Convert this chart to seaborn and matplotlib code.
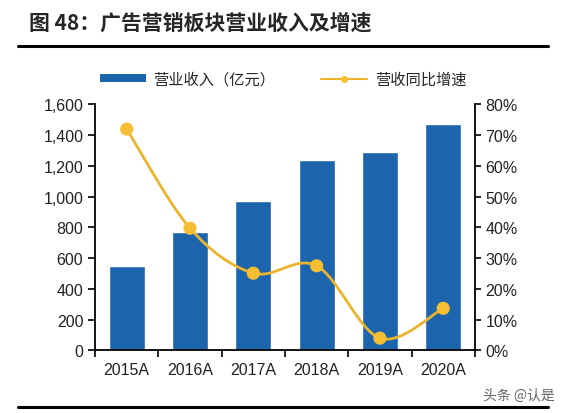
import numpy as np
import pandas as pd
import seaborn as sns
import matplotlib.pyplot as plt
from matplotlib.path import Path
from matplotlib.patches import PathPatch, Patch
from matplotlib.lines import Line2D
from matplotlib.ticker import FuncFormatter, FixedLocator, NullFormatter

# data
years = ["2015A", "2016A", "2017A", "2018A", "2019A", "2020A"]
revenue = [550, 771, 968, 1238, 1290, 1472]          # 营业收入（亿元）
growth = [71.9, 39.7, 25.1, 27.5, 4.0, 13.7]          # 营收同比增速 %

bar_label = "营业收入（亿元）"
line_label = "营收同比增速"
title = "图 48：广告营销板块营业收入及增速"

bar_color = "#1c65ad"
line_color = "#ebb42c"
dot_color = "#f6bf33"

sns.set_style("white")
plt.rcParams["font.family"] = ["Liberation Sans", "Noto Sans CJK SC", "DejaVu Sans"]

df = pd.DataFrame({"year": years, "revenue": revenue, "growth": growth})

fig = plt.figure(figsize=(5.66, 4.14), dpi=100)
ax = fig.add_axes([0.168, 0.151, 0.671, 0.595])

sns.barplot(data=df, x="year", y="revenue", color=bar_color, width=0.57,
            saturation=1, ax=ax)
ax.set_ylim(0, 1600)
ax.set_xlim(-0.5, len(years) - 0.5)
ax.set_yticks(range(0, 1601, 200))
ax.yaxis.set_major_formatter(FuncFormatter(lambda v, p: f"{int(v):,}"))
ax.set_xlabel("")
ax.set_ylabel("")

# category boundary ticks on x
ax.xaxis.set_minor_locator(FixedLocator(np.arange(-0.5, len(years), 1.0)))
ax.xaxis.set_minor_formatter(NullFormatter())
ax.tick_params(axis="x", which="major", length=0, labelsize=11.5, pad=8, colors="#222222")
ax.tick_params(axis="x", which="minor", length=5, width=1.2, bottom=True, color="black")
ax.tick_params(axis="y", length=5, width=1.2, left=True, labelsize=11.5, colors="#222222")
ax.tick_params(axis="y", color="black")

for s in ["left", "bottom"]:
    ax.spines[s].set_color("black")
    ax.spines[s].set_linewidth(1.3)
ax.spines["top"].set_visible(False)
ax.spines["right"].set_visible(False)

ax2 = ax.twinx()
ax2.set_ylim(0, 80)
ax2.set_yticks(range(0, 81, 10))
ax2.yaxis.set_major_formatter(FuncFormatter(lambda v, p: f"{int(v)}%"))
ax2.tick_params(axis="y", length=4, width=1.2, right=True, labelsize=11.5,
                colors="#222222", color="black")
ax2.spines["right"].set_color("black")
ax2.spines["right"].set_linewidth(1.3)
for s in ["top", "left", "bottom"]:
    ax2.spines[s].set_visible(False)

# smooth curve (Catmull-Rom through the data points)
xs = np.arange(len(years), dtype=float)
ys = np.array(growth, dtype=float)
pts = np.column_stack([xs, ys])
verts = [pts[0]]
codes = [Path.MOVETO]
for i in range(len(pts) - 1):
    p0 = pts[i - 1] if i > 0 else pts[i]
    p1, p2 = pts[i], pts[i + 1]
    p3 = pts[i + 2] if i + 2 < len(pts) else pts[i + 1]
    c1 = p1 + (p2 - p0) / 6.0
    c2 = p2 - (p3 - p1) / 6.0
    verts += [c1, c2, p2]
    codes += [Path.CURVE4] * 3
ax2.add_patch(PathPatch(Path(verts, codes), facecolor="none", edgecolor=line_color,
                        lw=2, zorder=3))
sns.scatterplot(x=xs, y=ys, color=dot_color, s=90, edgecolor="none", ax=ax2,
                zorder=4, legend=False)

handles = [Patch(facecolor=bar_color, edgecolor="none"),
           Line2D([], [], color=line_color, lw=1.5, marker="o", markersize=4,
                  markerfacecolor=dot_color, markeredgecolor=dot_color)]
fig.legend(handles, [bar_label, line_label], loc="center", bbox_to_anchor=(0.5, 0.806),
           ncol=2, frameon=False, handlelength=3.0, handleheight=0.45,
           columnspacing=3.0, handletextpad=0.5,
           prop={"family": ["Noto Sans CJK SC"], "size": 11})

# title and rules
fig.text(0.052, 0.945, title, fontsize=15, fontweight="bold", va="center", ha="left",
         family=["Noto Sans CJK SC", "DejaVu Sans"])
fig.add_artist(Line2D([0.032, 0.968], [0.886, 0.886], color="black", lw=2.2))
fig.add_artist(Line2D([0.032, 0.968], [0.015, 0.015], color="black", lw=2.2))
fig.text(0.98, 0.045, "头条 @认是", fontsize=10, color="#666666", ha="right", va="center",
         family=["Noto Sans CJK SC", "DejaVu Sans"])

fig.savefig("out.png", dpi=100, facecolor="white")
